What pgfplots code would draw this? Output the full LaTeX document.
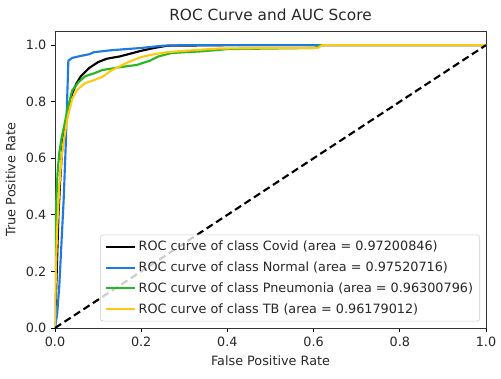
\documentclass[border=0pt]{standalone}
\usepackage{fontspec}
\setmainfont{DejaVu Sans}
\usepackage{pgfplots}
\pgfplotsset{compat=1.18}
\definecolor{cblue}{RGB}{30,122,222}
\definecolor{cgreen}{RGB}{38,184,28}
\definecolor{cyellow}{RGB}{255,200,20}
\definecolor{tgray}{RGB}{40,40,40}
\begin{document}
\begin{tikzpicture}
\useasboundingbox (-41.25pt,-38.25pt) rectangle (334.5pt,246pt);
\begin{axis}[
  at={(0,0)}, anchor=south west,
  scale only axis, width=323.25pt, height=222.75pt,
  xmin=0, xmax=1, ymin=0, ymax=1.05,
  xtick={0,0.2,...,1.0}, ytick={0,0.2,...,1.0},
  xticklabel style={/pgf/number format/.cd,fixed,fixed zerofill,precision=1},
  yticklabel style={/pgf/number format/.cd,fixed,fixed zerofill,precision=1},
  /pgf/number format/assume math mode=true,
  tick align=outside, tick pos=left,
  major tick length=3pt,
  every tick/.style={black, line width=0.6pt},
  axis line style={line width=0.6pt, black!80},
  tick label style={font=\fontsize{9.6}{11}\selectfont, text=tgray},
  label style={font=\fontsize{9.6}{11}\selectfont, text=tgray},
  title style={font=\fontsize{11.5}{13}\selectfont, text=tgray, yshift=-1.5pt},
  title={ROC Curve and AUC Score},
  xlabel={False Positive Rate},
  ylabel={True Positive Rate},
  ylabel style={yshift=1pt},
  legend style={at={(1,0)}, anchor=south east, xshift=-4.5pt, yshift=5pt,
    draw=black!20, rounded corners=2pt, fill=white, fill opacity=0.8, text opacity=1,
    font=\fontsize{9.6}{11}\selectfont, text=tgray, row sep=2.8pt, inner xsep=3pt, inner ysep=2.5pt},
  legend cell align=left,
  legend image code/.code={\draw[#1] (0pt,0pt) -- (22pt,0pt);},
  every axis plot/.append style={line width=1.6pt},
]
\addplot[black] coordinates {
(0,0) (0.002,0.1) (0.005,0.25) (0.008,0.4) (0.012,0.52) (0.016,0.62) (0.02,0.68)
(0.03,0.76) (0.04,0.83) (0.05,0.865) (0.06,0.89) (0.08,0.92) (0.1,0.94) (0.12,0.952)
(0.15,0.96) (0.18,0.972) (0.2,0.98) (0.23,0.99) (0.26,0.998) (0.4,1.0) (1,1)};
\addlegendentry{ROC curve of class Covid (area = 0.97200846)}
\addplot[cblue] coordinates {
(0,0) (0.005,0.05) (0.01,0.15) (0.015,0.3) (0.02,0.45) (0.025,0.65) (0.028,0.8)
(0.031,0.945) (0.04,0.955) (0.06,0.962) (0.08,0.968) (0.09,0.975) (0.13,0.982)
(0.2,0.99) (0.25,0.998) (0.3,1) (1,1)};
\addlegendentry{ROC curve of class Normal (area = 0.97520716)}
\addplot[cgreen] coordinates {
(0,0) (0.001,0.3) (0.003,0.45) (0.006,0.55) (0.01,0.62) (0.015,0.67) (0.022,0.72)
(0.03,0.78) (0.04,0.84) (0.055,0.87) (0.07,0.89) (0.09,0.9) (0.11,0.912) (0.15,0.922)
(0.19,0.93) (0.22,0.945) (0.24,0.96) (0.27,0.972) (0.3,0.975) (0.34,0.978) (0.4,0.986)
(0.5,0.988) (0.6,0.99) (0.62,1) (1,1)};
\addlegendentry{ROC curve of class Pneumonia (area = 0.96300796)}
\addplot[cyellow] coordinates {
(0,0) (0.002,0.2) (0.005,0.35) (0.01,0.5) (0.015,0.6) (0.02,0.66) (0.03,0.75)
(0.04,0.81) (0.05,0.84) (0.07,0.866) (0.09,0.876) (0.11,0.888) (0.13,0.91) (0.15,0.925)
(0.17,0.94) (0.2,0.958) (0.23,0.968) (0.26,0.975) (0.3,0.98) (0.38,0.988) (0.5,0.99)
(0.61,0.99) (0.62,1) (1,1)};
\addlegendentry{ROC curve of class TB (area = 0.96179012)}
\addplot[black, dashed, dash pattern=on 5.5pt off 3pt, forget plot] coordinates {(0,0) (1,1)};
\end{axis}
\end{tikzpicture}
\end{document}
